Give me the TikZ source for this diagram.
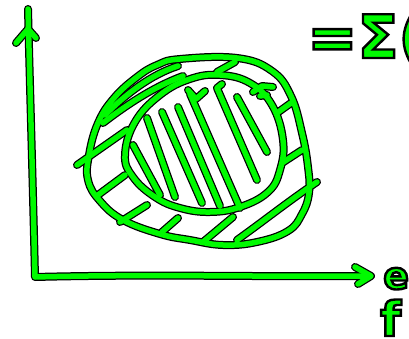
\documentclass[tikz,border=0pt]{standalone}
\usepackage{fontspec}
\setmainfont{DejaVu Sans}
\definecolor{inkgreen}{RGB}{0,250,0}
% outlined glyphs: green fill, thin black rim
\newcommand\rimtext[1]{\special{pdf:literal direct 0 0 0 RG 2.4 w 2 Tr}#1\special{pdf:literal direct 0 Tr}}

\begin{document}
\begin{tikzpicture}[x=1pt, y=-1pt,
    ink/.style={line cap=round, line join=round},
    inkback/.style={ink, draw=black, line width=8pt},
    inkfront/.style={ink, draw=inkgreen, line width=5.5pt},
    handtext/.style={inner sep=0pt, anchor=base west, text=inkgreen, font=\bfseries},
]
\useasboundingbox (0,0) rectangle (409,339);
\clip (0,0) rectangle (409,339);

\def\strokes{%
  % Axes
  \draw[pen] (28,9) .. controls (30,90) and (33,190) .. (35,277)
             .. controls (150,274) and (260,277) .. (370,276);
  \draw[pen] (16,43) -- (28,29) -- (36,38);
  \draw[pen] (355,267) -- (371,276) -- (358,284);
  % Outer region
  \draw[pen] plot[smooth cycle, tension=0.7] coordinates {(180,59) (237,58) (272,71) (291,96) (302,133) (308,167) (309,193) (302,214) (288,231) (257,242) (223,245) (190,240) (160,234) (123,220) (100,201) (88,180) (89,155) (98,123) (114,98) (137,77) (157,65)};
  % Inner region
  \draw[pen] plot[smooth cycle, tension=0.7] coordinates {(125,155) (135,122) (160,95) (190,79) (220,75) (250,83) (272,105) (283,140) (280,170) (268,192) (240,207) (210,212) (180,208) (155,197) (133,177)};
  % Inner hatching
  \draw[pen] (133,145) -- (160,195);
  \draw[pen] (147,118) -- (175,197);
  \draw[pen] (162,112) -- (202,203);
  \draw[pen] (178,107) -- (220,206);
  \draw[pen] (188,90) -- (196,99) -- (205,91);
  \draw[pen] (190,94) -- (240,208);
  \draw[pen] (222,84) -- (217,88) -- (257,180);
  \draw[pen] (237,97) -- (267,152);
  % Ring hatching
  \draw[pen] (77,165) -- (127,130);
  \draw[pen] (98,195) -- (125,175);
  \draw[pen] (120,222) -- (147,205);
  \draw[pen] (162,232) -- (178,218);
  \draw[pen] (203,242) -- (233,217);
  \draw[pen] (237,240) .. controls (265,220) and (290,200) .. (317,182);
  \draw[pen] (282,163) -- (302,150);
  \draw[pen] (277,113) -- (291,103);
  \draw[pen] (253,92) -- (262,86) -- (273,87);
  \draw[pen] (260,96) -- (267,95);
  \draw[pen] (217,72) -- (235,62);
  \draw[pen] (103,123) .. controls (120,110) and (150,88) .. (183,76);
  \draw[pen] (105,115) .. controls (125,95) and (150,75) .. (178,66);
}

\begin{scope}[pen/.style={inkback}] \strokes \end{scope}
\begin{scope}[pen/.style={inkfront}] \strokes \end{scope}

% Hand labels
\node[handtext, font=\bfseries\fontsize{60}{60}\selectfont] (sumeq) at (307,58) {\rimtext{=Σ(}};
\node[handtext, font=\bfseries\fontsize{38}{38}\selectfont] (elabel) at (383,289) {\rimtext{e}};
\node[handtext, font=\bfseries\fontsize{48}{48}\selectfont] (flabel) at (380,336) {\rimtext{f}};

\end{tikzpicture}
\end{document}
